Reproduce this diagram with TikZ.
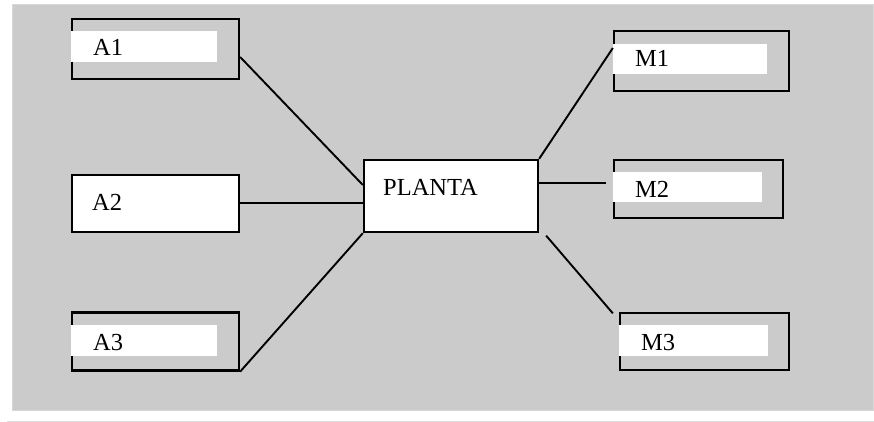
\documentclass[tikz,border=0pt]{standalone}
\usepackage{fontspec}
\setmainfont{Liberation Serif}
\definecolor{panel}{RGB}{203,203,203}
\definecolor{panelrim}{RGB}{216,216,216}
\definecolor{rulegray}{RGB}{222,222,222}
\begin{document}
\begin{tikzpicture}[x=1pt,y=-1pt,
  box/.style={draw=black, line width=2.3pt, fill=panel, rectangle, inner sep=0pt},
  plainbox/.style={box, fill=white},
  strip/.style={fill=white},
  label/.style={anchor=base west, inner sep=0pt, font=\fontsize{24.5}{29}\selectfont},
  link/.style={draw=black, line width=1.9pt}]
\useasboundingbox (0,0) rectangle (874,422);

% grey panel and the rule beneath it
\fill[panel, draw=panelrim, line width=1pt] (12,5) rectangle (873,410);
\draw[rulegray, line width=0.8pt] (7,421) -- (874,421);

% left-hand boxes
\node[box, minimum width=167pt, minimum height=60pt] (a1) at (155.5,49) {};
\fill[strip] (71,31) rectangle (217,62);
\node[label] (a1t) at (93,56) {A1};

\node[plainbox, minimum width=167pt, minimum height=57pt] (a2) at (155.5,203.5) {};
\node[label] (a2t) at (92,210) {A2};

\node[box, minimum width=167pt, minimum height=58pt] (a3) at (155.5,341.5) {};
\fill[strip] (71,325) rectangle (217,356);
\node[label] (a3t) at (93,350) {A3};

% central box
\node[plainbox, minimum width=174pt, minimum height=72pt] (planta) at (451,196) {};
\node[label] (plantat) at (383,195) {PLANTA};

% right-hand boxes
\node[box, minimum width=175pt, minimum height=60pt] (m1) at (701.5,61) {};
\fill[strip] (613,44) rectangle (767,74);
\node[label] (m1t) at (635,67) {M1};

\node[box, minimum width=169pt, minimum height=58pt] (m2) at (698.5,189) {};
\fill[strip] (613,172) rectangle (762,202);
\node[label] (m2t) at (635,197) {M2};

\node[box, minimum width=169pt, minimum height=57pt] (m3) at (704.5,341.5) {};
\fill[strip] (619,325) rectangle (768,356);
\node[label] (m3t) at (641,350) {M3};

% connectors
\draw[link] ([yshift=-8pt]a1.east) -- ([yshift=11pt]planta.west);
\coordinate (a2out) at ([yshift=0.5pt]a2.east);
\draw[link] (a2out) -- (a2out -| planta.west);
\draw[link] (a3.south east) -- (planta.south west);
\draw[link] (planta.north east) -- ([yshift=13pt]m1.west);
\coordinate (m2in) at ([xshift=-6.5pt]m2.west);
\coordinate (p2) at ([yshift=13pt]planta.east);
\draw[link] (p2) -- (p2 -| m2in);
\draw[link] ([xshift=7pt,yshift=-2.5pt]planta.south east) -- ([xshift=-6pt,yshift=-1.5pt]m3.north west);
\end{tikzpicture}
\end{document}
